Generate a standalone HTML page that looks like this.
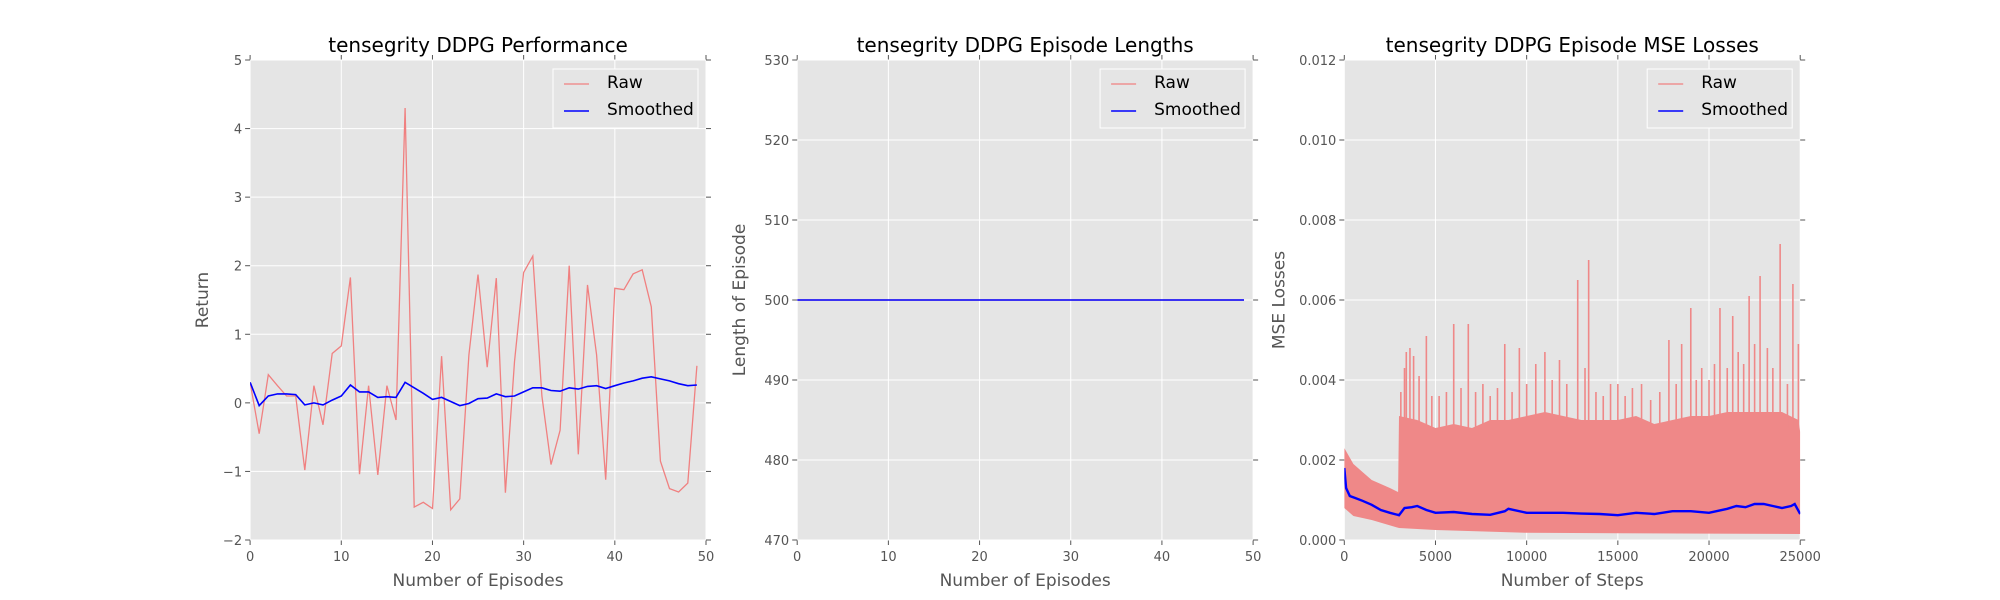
<!DOCTYPE html>
<html><head><meta charset="utf-8">
<style>
html,body{margin:0;padding:0;background:#fff;}
svg{display:block;font-family:"DejaVu Sans","Liberation Sans",sans-serif;}
</style></head>
<body>
<svg id="fig" width="2000" height="600" viewBox="0 0 2000 600" xmlns="http://www.w3.org/2000/svg"></svg>
<script>
// ---- Panel 1 data ----
const p1Episodes = [0,1,2,3,4,5,6,7,8,9,10,11,12,13,14,15,16,17,18,19,20,21,22,23,24,25,26,27,28,29,30,31,32,33,34,35,36,37,38,39,40,41,42,43,44,45,46,47,48,49];
const p1Raw = [0.3,-0.45,0.41,0.25,0.1,0.1,-0.98,0.25,-0.32,0.72,0.83,1.83,-1.04,0.25,-1.05,0.25,-0.25,4.3,-1.52,-1.45,-1.54,0.68,-1.56,-1.4,0.7,1.87,0.52,1.82,-1.31,0.6,1.9,2.14,0.1,-0.9,-0.4,2.0,-0.75,1.72,0.7,-1.12,1.67,1.65,1.88,1.94,1.4,-0.85,-1.25,-1.3,-1.17,0.54];
const p1Smooth = [0.3,-0.04,0.1,0.13,0.13,0.12,-0.03,0,-0.03,0.04,0.1,0.26,0.16,0.16,0.08,0.09,0.08,0.3,0.22,0.14,0.05,0.08,0.02,-0.04,-0.01,0.06,0.07,0.13,0.09,0.1,0.16,0.22,0.22,0.18,0.17,0.22,0.2,0.24,0.25,0.21,0.25,0.29,0.32,0.36,0.38,0.35,0.32,0.28,0.25,0.26];
const p1YTicks = [-2,-1,0,1,2,3,4,5];
const p1XTicks = [0,10,20,30,40,50];
// ---- Panel 2 data ----
const p2Episodes = p1Episodes;
const p2Raw = p1Episodes.map(()=>500);
const p2Smooth = p1Episodes.map(()=>500);
const p2YTicks = [470,480,490,500,510,520,530];
const p2XTicks = [0,10,20,30,40,50];
// ---- Panel 3 data ----
const p3HiSteps = [0,500,1000,1500,2000,2500,2950,3000,4000,5000,6000,7000,8000,9000,10000,11000,12000,13000,14000,15000,16000,17000,18000,19000,20000,21000,22000,23000,24000,24900,25000];
const p3Hi = [0.0023,0.0019,0.0017,0.0015,0.0014,0.0013,0.0012,0.0031,0.0030,0.0028,0.0029,0.0028,0.0030,0.0030,0.0031,0.0032,0.0031,0.0030,0.0030,0.0030,0.0031,0.0029,0.0030,0.0031,0.0031,0.0032,0.0032,0.0032,0.0032,0.0030,0.0027];
const p3LoSteps = [0,500,1500,3000,5000,10000,15000,20000,25000];
const p3Lo = [0.0008,0.0006,0.0005,0.0003,0.00025,0.00018,0.00017,0.00016,0.00015];
const p3SpikeSteps = [3100,3300,3400,3600,3800,4100,4500,4800,5200,5600,6000,6400,6800,7200,7600,8000,8400,8800,9200,9600,10000,10500,11000,11400,11800,12200,12800,13200,13400,13800,14200,14600,15000,15400,15800,16300,16800,17300,17800,18200,18500,19000,19300,19600,20000,20300,20600,21000,21300,21600,21900,22200,22500,22800,23200,23500,23900,24300,24600,24900];
const p3SpikeVals = [0.0037,0.0043,0.0047,0.0048,0.0046,0.0041,0.0051,0.0036,0.0036,0.0037,0.0054,0.0038,0.0054,0.0037,0.0039,0.0036,0.0038,0.0049,0.0037,0.0048,0.0039,0.0044,0.0047,0.0040,0.0045,0.0039,0.0065,0.0043,0.0070,0.0037,0.0036,0.0039,0.0039,0.0036,0.0038,0.0039,0.0035,0.0037,0.0050,0.0039,0.0049,0.0058,0.0040,0.0043,0.0040,0.0044,0.0058,0.0043,0.0056,0.0047,0.0044,0.0061,0.0049,0.0066,0.0048,0.0043,0.0074,0.0039,0.0064,0.0049];
const p3SmoothSteps = [0,100,300,600,1000,1500,2000,2500,3000,3300,3700,4000,4500,5000,6000,7000,8000,8800,9000,10000,11000,12000,13000,14000,15000,16000,17000,18000,19000,20000,21000,21500,22000,22500,23000,23500,24000,24500,24700,25000];
const p3Smooth = [0.0018,0.0013,0.0011,0.00105,0.00098,0.00088,0.00075,0.00068,0.00062,0.0008,0.00082,0.00085,0.00075,0.00068,0.0007,0.00065,0.00063,0.00072,0.00078,0.00068,0.00068,0.00068,0.00066,0.00065,0.00062,0.00068,0.00065,0.00072,0.00072,0.00068,0.00078,0.00085,0.00082,0.0009,0.0009,0.00085,0.0008,0.00085,0.0009,0.00065];
const p3YTicks = [0,0.002,0.004,0.006,0.008,0.010,0.012];
const p3YLabels = ["0.000","0.002","0.004","0.006","0.008","0.010","0.012"];
const p3XTicks = [0,5000,10000,15000,20000,25000];

const NS="http://www.w3.org/2000/svg";
const svg=document.getElementById('fig');
function mk(tag,attrs,parent){const e=document.createElementNS(NS,tag);for(const k in attrs)e.setAttribute(k,attrs[k]);(parent||svg).appendChild(e);return e;}

function panel(o){
  const L=o.left,R=o.left+455.9,T=60,B=540;
  const g=mk('g',{});
  
  
  const sx=v=>L+(v-o.x0)/(o.x1-o.x0)*(R-L);
  const sy=v=>B-(v-o.y0)/(o.y1-o.y0)*(B-T);
  const bg=mk('rect',{x:L,y:T,width:R-L,height:B-T,fill:'#e5e5e5'},g);
  
  
  o.xt.forEach((v,i)=>{
    const x=sx(v);
    mk('line',{x1:x,x2:x,y1:T,y2:B,stroke:'#fff','stroke-width':1},g);
    mk('line',{x1:x,x2:x,y1:B,y2:B+5,stroke:'#555'},g);
    mk('line',{x1:x,x2:x,y1:T,y2:T-5,stroke:'#555'},g);
    const t=mk('text',{x:x,y:B+21,'text-anchor':'middle','font-size':13,fill:'#555'},g);
    t.textContent=o.xl?o.xl[i]:String(v);
    
    
  });
  o.yt.forEach((v,i)=>{
    const y=sy(v);
    mk('line',{x1:L,x2:R,y1:y,y2:y,stroke:'#fff','stroke-width':1},g);
    mk('line',{x1:L-5,x2:L,y1:y,y2:y,stroke:'#555'},g);
    mk('line',{x1:R,x2:R+5,y1:y,y2:y,stroke:'#555'},g);
    const t=mk('text',{x:L-8,y:y+5,'text-anchor':'end','font-size':13,fill:'#555'},g);
    t.textContent=o.yl?o.yl[i]:(v<0?'\u2212'+(-v):String(v));
    
    
  });
  const cp=mk('clipPath',{id:o.id+'clip'},g);
  mk('rect',{x:L,y:T,width:R-L,height:B-T},cp);
  const series=mk('g',{'clip-path':'url(#'+o.id+'clip)'},g);
  o.draw(series,sx,sy);
  const title=mk('text',{x:(L+R)/2,y:52,'text-anchor':'middle','font-size':20,fill:'#000'},g);
  title.textContent=o.title;
  
  
  const xl=mk('text',{x:(L+R)/2,y:586,'text-anchor':'middle','font-size':17,fill:'#555'},g);
  xl.textContent=o.xlabel;
  
  
  const yx=L-o.ylOff;
  const yl=mk('text',{x:yx,y:(T+B)/2,'text-anchor':'middle','font-size':17,fill:'#555',transform:'rotate(-90 '+yx+' '+(T+B)/2+')'},g);
  yl.textContent=o.ylabel;
  
  
  // legend
  const lg=mk('g',{},g);
  
  
  const lx=R-153,ly=69;
  mk('rect',{x:lx,y:ly,width:145,height:59,fill:'#e5e5e5',stroke:'#fff','stroke-width':1},lg);
  [['Raw','#f08080'],['Smoothed','#0000ff']].forEach((e,i)=>{
    const yy=ly+15+i*27;
    const ent=mk('g',{},lg);
    
    
    mk('line',{x1:lx+11,x2:lx+36,y1:yy,y2:yy,stroke:e[1],'stroke-width':i?1.6:1.2},ent);
    const t=mk('text',{x:lx+54,y:yy+4,'font-size':17,fill:'#000'},ent);
    t.textContent=e[0];
  });
}
function poly(xs,ys,sx,sy){return xs.map((x,i)=>sx(x).toFixed(1)+','+sy(ys[i]).toFixed(1)).join(' ');}

panel({id:'performance',left:250.1,x0:0,x1:50,y0:-2,y1:5,xt:p1XTicks,yt:p1YTicks,
  title:'tensegrity DDPG Performance',xlabel:'Number of Episodes',ylabel:'Return',ylOff:42,
  draw:(g,sx,sy)=>{
    const r=mk('polyline',{points:poly(p1Episodes,p1Raw,sx,sy),fill:'none',stroke:'#f08080','stroke-width':1.3},g);
    
    const s=mk('polyline',{points:poly(p1Episodes,p1Smooth,sx,sy),fill:'none',stroke:'#0000ff','stroke-width':1.6},g);
    
  }});
panel({id:'lengths',left:797.2,x0:0,x1:50,y0:470,y1:530,xt:p2XTicks,yt:p2YTicks,
  title:'tensegrity DDPG Episode Lengths',xlabel:'Number of Episodes',ylabel:'Length of Episode',ylOff:52,
  draw:(g,sx,sy)=>{
    const r=mk('polyline',{points:poly(p2Episodes,p2Raw,sx,sy),fill:'none',stroke:'#f08080','stroke-width':1.3},g);
    
    const s=mk('polyline',{points:poly(p2Episodes,p2Smooth,sx,sy),fill:'none',stroke:'#0000ff','stroke-width':1.6},g);
    
  }});
panel({id:'mse',left:1344.3,x0:0,x1:25000,y0:0,y1:0.012,xt:p3XTicks,yt:p3YTicks,yl:p3YLabels,xl:p3XTicks.map(String),
  title:'tensegrity DDPG Episode MSE Losses',xlabel:'Number of Steps',ylabel:'MSE Losses',ylOff:60,
  draw:(g,sx,sy)=>{
    const top=poly(p3HiSteps,p3Hi,sx,sy);
    const bot=p3LoSteps.slice().reverse().map((x,i)=>sx(x).toFixed(1)+','+sy(p3Lo[p3Lo.length-1-i]).toFixed(1)).join(' ');
    const a=mk('polygon',{points:top+' '+bot,fill:'#ef8888'},g);
    
    p3SpikeSteps.forEach((st,i)=>{
      const l=mk('line',{x1:sx(st),x2:sx(st),y1:sy(0.0028),y2:sy(p3SpikeVals[i]),stroke:'#ef8888','stroke-width':1.6},g);
      
      
    });
    const s=mk('polyline',{points:poly(p3SmoothSteps,p3Smooth,sx,sy),fill:'none',stroke:'#0000ff','stroke-width':2.4},g);
    
  }});
</script>
</body></html>
